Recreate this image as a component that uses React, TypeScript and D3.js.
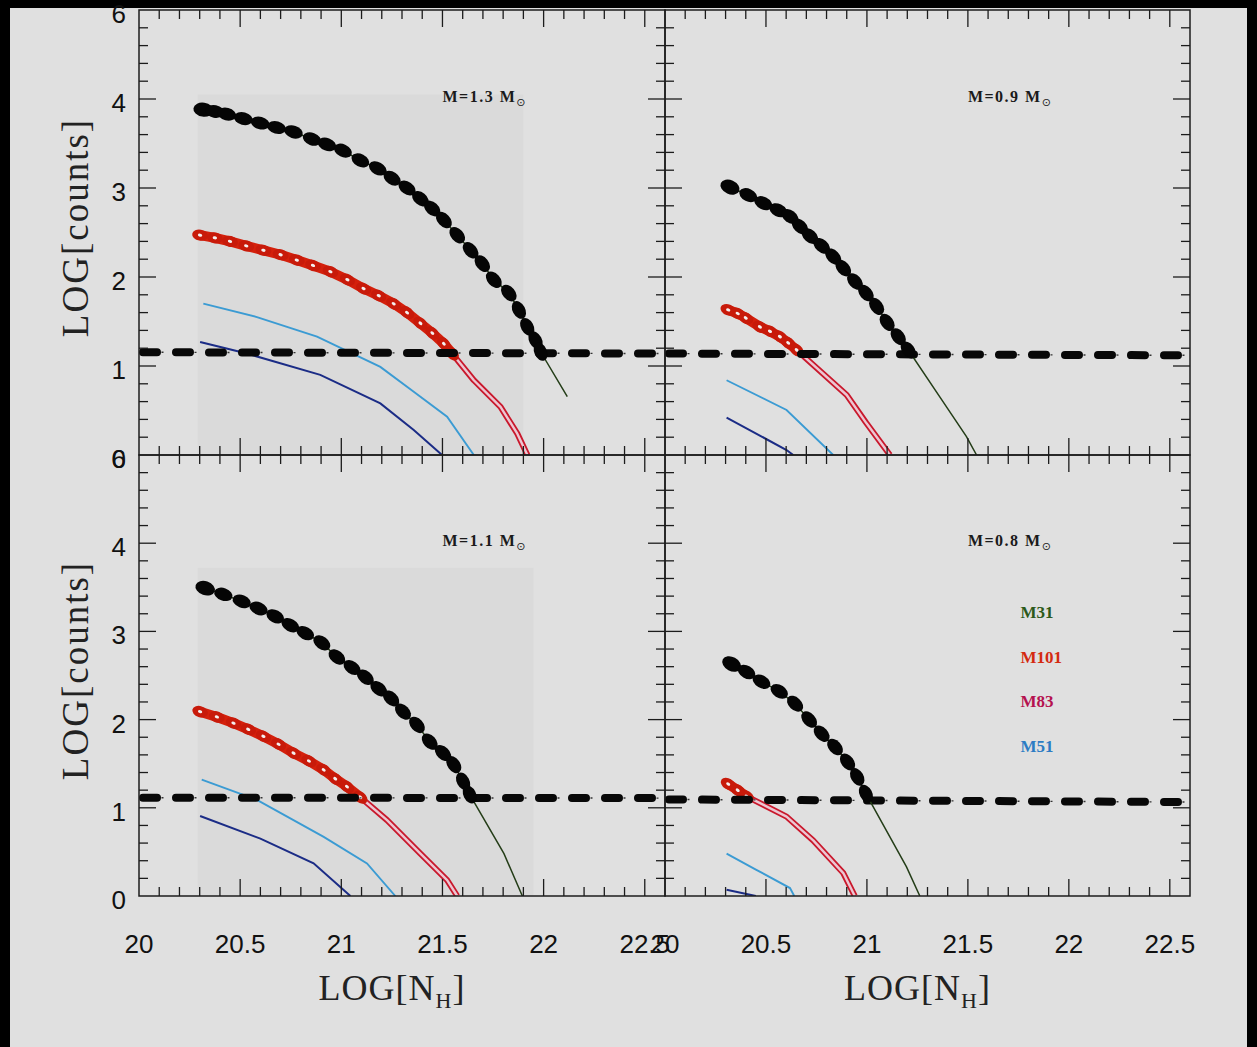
import * as d3 from 'd3'

type Pt = [number, number]

// axis ticks / labels
const xTickValues = [20, 20.5, 21, 21.5, 22, 22.5]
const xTickLabels = ['20', '20.5', '21', '21.5', '22', '22.5']
const yTickValues = [0, 1, 2, 3, 4, 5]
const yTickLabels = ['0', '1', '2', '3', '4', '6']
const massLabels = ['1.3', '0.9', '1.1', '0.8']

const legendNames = ['M31', 'M101', 'M83', 'M51']
const legendColors = ['#2c5a1a', '#d42a10', '#b5124f', '#2c7cc4']
const legendY = [3.15, 2.64, 2.14, 1.63]

// M = 1.3
const m31Dots13: Pt[] = [[20.318, 3.88], [20.375, 3.86], [20.434, 3.83], [20.516, 3.78], [20.599, 3.73], [20.68, 3.68], [20.764, 3.63], [20.855, 3.55], [20.929, 3.49], [21.008, 3.42], [21.094, 3.31], [21.18, 3.22], [21.251, 3.11], [21.325, 3.0], [21.391, 2.88], [21.449, 2.77], [21.507, 2.64], [21.573, 2.47], [21.639, 2.3], [21.697, 2.15], [21.754, 1.97], [21.828, 1.82], [21.878, 1.63], [21.919, 1.44], [21.96, 1.29], [21.985, 1.16]]
const m31Tail13: Pt[] = [[21.985, 1.16], [22.117, 0.655]]
const m101Top13: Pt[] = [[20.302, 2.47], [20.375, 2.44], [20.45, 2.4], [20.53, 2.35], [20.615, 2.3], [20.7, 2.25], [20.78, 2.19], [20.86, 2.13], [20.946, 2.06], [21.03, 1.97], [21.11, 1.87], [21.185, 1.79], [21.259, 1.7], [21.325, 1.6], [21.391, 1.48], [21.45, 1.37], [21.507, 1.25], [21.548, 1.14]]
const m101Low13: Pt[] = [[21.548, 1.14], [21.655, 0.84], [21.787, 0.54], [21.87, 0.24], [21.92, 0]]
const m51_13: Pt[] = [[20.318, 1.7], [20.583, 1.55], [20.88, 1.33], [21.193, 0.99], [21.358, 0.71], [21.523, 0.43], [21.655, 0]]
const navy13: Pt[] = [[20.302, 1.27], [20.533, 1.14], [20.896, 0.9], [21.193, 0.58], [21.358, 0.28], [21.498, 0]]
const thr13: Pt[] = [[20, 1.155], [22.6, 1.14]]

// M = 0.9
const m31Dots09: Pt[] = [[20.322, 3.01], [20.412, 2.92], [20.487, 2.83], [20.561, 2.75], [20.619, 2.68], [20.668, 2.57], [20.718, 2.46], [20.776, 2.35], [20.833, 2.23], [20.883, 2.1], [20.941, 1.95], [20.995, 1.82], [21.048, 1.67], [21.1, 1.49], [21.155, 1.33], [21.205, 1.18]]
const m31Tail09: Pt[] = [[21.205, 1.18], [21.36, 0.655], [21.493, 0.206], [21.543, 0]]
const m101Top09: Pt[] = [[20.313, 1.63], [20.36, 1.59], [20.4, 1.54], [20.47, 1.44], [20.52, 1.39], [20.569, 1.33], [20.61, 1.26], [20.652, 1.18]]
const m101Low09: Pt[] = [[20.652, 1.18], [20.9, 0.674], [20.998, 0.356], [21.114, 0]]
const m51_09: Pt[] = [[20.305, 0.84], [20.602, 0.506], [20.833, 0]]
const navy09: Pt[] = [[20.305, 0.42], [20.602, 0.056], [20.635, 0]]
const thr09: Pt[] = [[20, 1.14], [22.6, 1.12]]

// M = 1.1
const m31Dots11: Pt[] = [[20.327, 3.49], [20.417, 3.42], [20.508, 3.34], [20.591, 3.26], [20.673, 3.17], [20.748, 3.07], [20.822, 2.98], [20.904, 2.87], [20.978, 2.71], [21.053, 2.59], [21.119, 2.48], [21.185, 2.35], [21.246, 2.24], [21.305, 2.09], [21.374, 1.94], [21.437, 1.75], [21.503, 1.62], [21.556, 1.49], [21.602, 1.3], [21.635, 1.15]]
const m31Tail11: Pt[] = [[21.635, 1.15], [21.804, 0.48], [21.895, 0]]
const m101Top11: Pt[] = [[20.302, 2.09], [20.385, 2.03], [20.467, 1.96], [20.54, 1.89], [20.615, 1.81], [20.69, 1.72], [20.764, 1.62], [20.84, 1.53], [20.913, 1.43], [20.97, 1.33], [21.028, 1.24], [21.094, 1.12]]
const m101Low11: Pt[] = [[21.094, 1.12], [21.226, 0.86], [21.391, 0.48], [21.523, 0.18], [21.573, 0]]
const m51_11: Pt[] = [[20.31, 1.32], [20.583, 1.09], [20.913, 0.67], [21.127, 0.37], [21.267, 0]]
const navy11: Pt[] = [[20.302, 0.907], [20.6, 0.65], [20.863, 0.37], [21.045, 0]]
const thr11: Pt[] = [[20, 1.115], [22.6, 1.11]]

// M = 0.8
const m31Dots08: Pt[] = [[20.33, 2.63], [20.404, 2.54], [20.478, 2.43], [20.566, 2.32], [20.644, 2.18], [20.714, 2.0], [20.776, 1.84], [20.842, 1.69], [20.904, 1.52], [20.952, 1.35], [20.995, 1.16]]
const m31Tail08: Pt[] = [[20.995, 1.16], [21.196, 0.33], [21.262, 0]]
const m101Top08: Pt[] = [[20.313, 1.27], [20.36, 1.2], [20.404, 1.13]]
const m101Low08: Pt[] = [[20.404, 1.13], [20.602, 0.9], [20.734, 0.63], [20.883, 0.26], [20.94, 0]]
const m51_08: Pt[] = [[20.305, 0.48], [20.45, 0.3], [20.619, 0.09], [20.64, 0]]
const navy08: Pt[] = [[20.305, 0.07], [20.45, 0]]
const thr08: Pt[] = [[20, 1.095], [22.6, 1.065]]

const panels = [
  { mass: massLabels[0], col: 0, row: 0, dots: m31Dots13, tail: m31Tail13, redTop: m101Top13, redLow: m101Low13, m51: m51_13, navy: navy13, thr: thr13, shade: [20.29, 21.9, 4.05] },
  { mass: massLabels[1], col: 1, row: 0, dots: m31Dots09, tail: m31Tail09, redTop: m101Top09, redLow: m101Low09, m51: m51_09, navy: navy09, thr: thr09, shade: null },
  { mass: massLabels[2], col: 0, row: 1, dots: m31Dots11, tail: m31Tail11, redTop: m101Top11, redLow: m101Low11, m51: m51_11, navy: navy11, thr: thr11, shade: [20.29, 21.95, 3.72] },
  { mass: massLabels[3], col: 1, row: 1, dots: m31Dots08, tail: m31Tail08, redTop: m101Top08, redLow: m101Low08, m51: m51_08, navy: navy08, thr: thr08, shade: null },
]

const colX = [[139, 665], [665, 1190]]
const rowY = [[455, 10], [896, 455]]

const BG = '#e0e0e0'
const INK = '#1c1c1c'

function Panel({ p, idx }: { p: typeof panels[number]; idx: number }) {
  const x = d3.scaleLinear().domain([20, 22.6]).range(colX[p.col])
  const y = d3.scaleLinear().domain([0, 5]).range(rowY[p.row])
  const line = d3.line<Pt>().x(d => x(d[0])).y(d => y(d[1]))
  const [left, right] = x.range()
  const [bottom, top] = y.range()

  const xMinor = d3.range(1, 26).map(i => ({ v: 20 + i * 0.1, major: i % 5 === 0 }))
  const yMinor = d3.range(1, 25).map(i => ({ v: i * 0.2, major: i % 5 === 0 }))
  const tick = (major: boolean) => (major ? 17 : 9)

  const angle = (pts: Pt[], i: number) => {
    const a = pts[Math.max(0, i - 1)]
    const b = pts[Math.min(pts.length - 1, i + 1)]
    return (Math.atan2(y(b[1]) - y(a[1]), x(b[0]) - x(a[0])) * 180) / Math.PI
  }
  const clipId = `clip${idx}`

  return (
    <g>
      <clipPath id={clipId}>
        <rect x={left} y={top} width={right - left} height={bottom - top} />
      </clipPath>
      {p.shade && (
        <rect x={x(p.shade[0])} y={y(p.shade[2])} width={x(p.shade[1]) - x(p.shade[0])} height={y(0) - y(p.shade[2])} fill="#dadada" />
      )}
      <g clipPath={`url(#${clipId})`}>
        <path d={line(p.navy) ?? ''} fill="none" stroke="#1b2c86" strokeWidth={2} />
        <path d={line(p.m51) ?? ''} fill="none" stroke="#3b9bd3" strokeWidth={1.9} />
        <path d={line(p.redLow) ?? ''} fill="none" stroke="#c9182c" strokeWidth={6} strokeLinejoin="round" />
        <path d={line(p.redLow) ?? ''} fill="none" stroke="#ecc6d2" strokeWidth={2.4} strokeLinejoin="round" />
        <path d={line(p.redTop) ?? ''} fill="none" stroke="#d4200c" strokeWidth={10} strokeLinecap="round" strokeLinejoin="round" />
        {p.redTop.map((d, i) => (
          <ellipse key={i} cx={x(d[0])} cy={y(d[1])} rx={8} ry={5.5} fill="#c81a0a" transform={`rotate(${angle(p.redTop, i)},${x(d[0])},${y(d[1])})`} />
        ))}
        {p.redTop.map((d, i) => (
          <ellipse key={i} cx={x(d[0])} cy={y(d[1])} rx={2.2} ry={1.5} fill="#f4f0f0" transform={`rotate(${angle(p.redTop, i)},${x(d[0])},${y(d[1])})`} />
        ))}
        <path d={line(p.thr) ?? ''} fill="none" stroke="#333" strokeWidth={1.4} strokeDasharray="2 31" strokeDashoffset={-22.5} />
        <path d={line(p.thr) ?? ''} fill="none" stroke="#080808" strokeWidth={8} strokeLinecap="round" strokeDasharray="14 19" strokeDashoffset={-4} />
        <path d={line([...p.dots, ...p.tail.slice(1)]) ?? ''} fill="none" stroke="#243d18" strokeWidth={1.5} />
        {p.dots.map((d, i) => (
          <ellipse key={i} cx={x(d[0])} cy={y(d[1])} rx={i === 0 ? 10 : 9.5} ry={i === 0 ? 7 : 6.3} fill="#050505" transform={`rotate(${angle(p.dots, i)},${x(d[0])},${y(d[1])})`} />
        ))}
      </g>

      {/* frame + inward ticks */}
      <rect x={left} y={top} width={right - left} height={bottom - top} fill="none" stroke={INK} strokeWidth={1.5} />
      {xMinor.map((t, i) => (
        <g key={i} stroke={INK} strokeWidth={1.3}>
          <line x1={x(t.v)} x2={x(t.v)} y1={bottom} y2={bottom - tick(t.major)} />
          <line x1={x(t.v)} x2={x(t.v)} y1={top} y2={top + tick(t.major)} />
        </g>
      ))}
      {yMinor.map((t, i) => (
        <g key={i} stroke={INK} strokeWidth={1.3}>
          <line x1={left} x2={left + tick(t.major)} y1={y(t.v)} y2={y(t.v)} />
          <line x1={right} x2={right - tick(t.major)} y1={y(t.v)} y2={y(t.v)} />
        </g>
      ))}

      {/* mass label */}
      <text x={x(21.5)} y={y(3.97)} fontFamily="Liberation Serif" fontWeight="bold" fontSize={16} letterSpacing={1.5} fill="#1a1a1a">
        {`M=${p.mass} M`}
        <tspan dy={4} fontSize={11} fontWeight="normal" fontFamily="DejaVu Sans">⊙</tspan>
      </text>

      {/* y tick labels */}
      {p.col === 0 && yTickValues.map((v, i) => (
        <text key={i} x={126} y={y(v) + 13} textAnchor="end" fontFamily="Liberation Sans" fontSize={26} fill="#111">
          {yTickLabels[i]}
        </text>
      ))}
      {p.col === 0 && (
        <text transform={`translate(88,${(top + bottom) / 2 - 5}) rotate(-90)`} textAnchor="middle" fontFamily="Liberation Serif" fontSize={37} letterSpacing={2} fill="#222">
          LOG[counts]
        </text>
      )}

      {/* x tick labels */}
      {p.row === 1 && xTickValues.map((v, i) => (
        <text key={i} x={x(v)} y={953} textAnchor="middle" fontFamily="Liberation Sans" fontSize={26} fill="#111">
          {xTickLabels[i]}
        </text>
      ))}
      {p.row === 1 && (
        <text x={(left + right) / 2 - 10} y={1000} textAnchor="middle" fontFamily="Liberation Serif" fontSize={36} letterSpacing={1} fill="#222">
          LOG[N<tspan dy={8} fontSize={22}>H</tspan><tspan dy={-8}>]</tspan>
        </text>
      )}

      {/* legend */}
      {p.col === 1 && p.row === 1 && legendNames.map((n, i) => (
        <text key={n} x={x(21.76)} y={y(legendY[i])} fontFamily="Liberation Serif" fontWeight="bold" fontSize={17} fill={legendColors[i]}>
          {n}
        </text>
      ))}
    </g>
  )
}

export default function App() {
  return (
    <svg width={1257} height={1047} style={{ position: 'absolute', left: 0, top: 0 }}>
      <rect width={1257} height={1047} fill={BG} />
      <rect x={0} y={0} width={10} height={1047} fill="#000" />
      <rect x={0} y={0} width={1257} height={8} fill="#000" />
      <rect x={1247} y={0} width={10} height={1047} fill="#000" />
      {panels.map((p, i) => (
        <Panel key={i} p={p} idx={i} />
      ))}
    </svg>
  )
}
